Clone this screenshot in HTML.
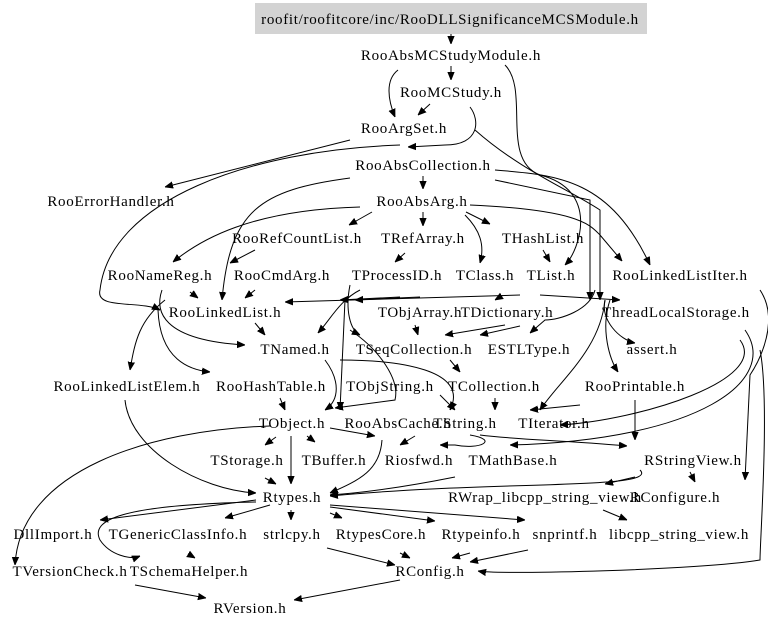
<!DOCTYPE html>
<html><head><meta charset="utf-8"><style>
html,body{margin:0;padding:0;background:#fff;}
svg{display:block}
text{font-family:"Liberation Serif",serif;font-size:15px;letter-spacing:0.7px;fill:#000;text-anchor:middle;}
path{fill:none;stroke:#000;stroke-width:1;}
</style></head><body>
<svg width="768" height="628" viewBox="0 0 768 628" xmlns="http://www.w3.org/2000/svg">
<defs><marker id="a" viewBox="0 0 10 10" refX="10" refY="5" markerWidth="8" markerHeight="8" orient="auto"><path d="M0,1 L10,5 L0,9 z" style="fill:#000;stroke:#000"/></marker></defs>
<rect x="255" y="3" width="392" height="31" fill="#d3d3d3"/>
<g marker-end="url(#a)">
<path d="M451,34 L451,44"/>
<path d="M451,66 L451,80"/>
<path d="M398,70 C385,80 388,100 395,117"/>
<path d="M430,104 L418,115"/>
<path d="M470,107 C480,120 480,145 445,145 L408,147"/>
<path d="M505,65 C530,90 500,160 540,175 C600,190 580,250 565,265"/>
<path d="M475,130 C520,170 570,190 600,210 L600,300"/>
<path d="M350,140 L165,187"/>
<path d="M400,145 C250,150 110,200 100,290 C95,310 140,300 160,310"/>
<path d="M423,176 L423,189"/>
<path d="M495,170 C560,175 610,180 650,265"/>
<path d="M495,180 L590,200 L590,300"/>
<path d="M350,178 C260,190 230,210 222,300"/>
<path d="M372,212 L349,225"/>
<path d="M360,207 C250,210 200,240 173,262"/>
<path d="M423,212 L423,226"/>
<path d="M466,212 L490,224"/>
<path d="M465,215 C480,230 485,245 480,263"/>
<path d="M470,205 C580,210 590,225 600,235 L622,261"/>
<path d="M543,250 L550,262"/>
<path d="M405,253 L395,262"/>
<path d="M255,250 L230,263"/>
<path d="M520,295 L285,302"/>
<path d="M190,292 L198,298"/>
<path d="M255,290 L245,298"/>
<path d="M400,297 L340,300"/>
<path d="M420,297 L355,300"/>
<path d="M500,297 L495,300"/>
<path d="M540,295 L620,300"/>
<path d="M360,290 C340,300 330,320 318,333"/>
<path d="M350,285 C345,310 350,330 360,335"/>
<path d="M162,290 C155,310 160,340 245,345"/>
<path d="M165,300 C140,320 135,340 130,370"/>
<path d="M158,310 C160,360 190,370 210,372"/>
<path d="M255,323 L265,335"/>
<path d="M415,325 L418,335"/>
<path d="M520,326 L480,335"/>
<path d="M505,325 L445,335"/>
<path d="M595,290 C590,310 560,320 545,320 L530,333"/>
<path d="M605,300 C600,320 620,340 635,343"/>
<path d="M610,300 C600,330 610,360 618,372"/>
<path d="M605,300 C600,350 560,380 540,410"/>
<path d="M280,398 L285,410"/>
<path d="M325,360 C340,380 340,400 325,410"/>
<path d="M450,360 L460,372"/>
<path d="M345,300 L340,410"/>
<path d="M350,330 C380,350 400,380 395,400 L335,408"/>
<path d="M340,360 C400,360 470,370 450,410"/>
<path d="M440,395 L455,410"/>
<path d="M495,398 L495,410"/>
<path d="M580,405 L530,410"/>
<path d="M635,400 L635,440"/>
<path d="M740,340 C770,380 640,420 560,425"/>
<path d="M745,330 C780,380 700,440 510,445"/>
<path d="M760,290 C780,320 760,360 750,375 L745,480"/>
<path d="M760,350 C770,400 760,540 760,560 C700,570 500,575 478,571"/>
<path d="M270,426 C150,430 20,470 15,565"/>
<path d="M276,437 L265,445"/>
<path d="M291,436 L291,484"/>
<path d="M307,436 L315,442"/>
<path d="M330,428 L375,436"/>
<path d="M415,436 L400,445"/>
<path d="M480,435 C520,440 560,440 627,446"/>
<path d="M470,435 C500,440 480,450 455,445 L440,445"/>
<path d="M382,440 C380,470 360,480 330,493"/>
<path d="M455,477 C400,488 360,493 330,495"/>
<path d="M265,478 L276,484"/>
<path d="M125,400 C130,450 200,490 256,493"/>
<path d="M640,470 C660,490 500,480 330,496"/>
<path d="M690,472 L695,482"/>
<path d="M635,477 L605,484"/>
<path d="M603,510 L627,520"/>
<path d="M270,505 L225,518"/>
<path d="M291,510 L291,520"/>
<path d="M330,513 L342,518"/>
<path d="M330,507 L435,521"/>
<path d="M330,505 L525,520"/>
<path d="M256,500 L100,520"/>
<path d="M256,502 C120,505 90,520 100,540 C110,555 130,560 140,556"/>
<path d="M190,555 L195,558"/>
<path d="M327,548 L395,565"/>
<path d="M400,553 L410,558"/>
<path d="M470,553 L452,558"/>
<path d="M528,550 L470,562"/>
<path d="M135,585 L206,598"/>
<path d="M400,580 L294,600"/>
</g>
<text x="450" y="24">roofit/roofitcore/inc/RooDLLSignificanceMCSModule.h</text>
<text x="451" y="60">RooAbsMCStudyModule.h</text>
<text x="451" y="97">RooMCStudy.h</text>
<text x="404" y="133">RooArgSet.h</text>
<text x="423" y="170">RooAbsCollection.h</text>
<text x="111" y="206">RooErrorHandler.h</text>
<text x="422" y="206">RooAbsArg.h</text>
<text x="297" y="243">RooRefCountList.h</text>
<text x="423" y="243">TRefArray.h</text>
<text x="543" y="243">THashList.h</text>
<text x="160" y="280">RooNameReg.h</text>
<text x="282" y="280">RooCmdArg.h</text>
<text x="397" y="280">TProcessID.h</text>
<text x="485" y="280">TClass.h</text>
<text x="551" y="280">TList.h</text>
<text x="680" y="280">RooLinkedListIter.h</text>
<text x="225" y="317">RooLinkedList.h</text>
<text x="420" y="317">TObjArray.h</text>
<text x="507" y="317">TDictionary.h</text>
<text x="676" y="317">ThreadLocalStorage.h</text>
<text x="295" y="354">TNamed.h</text>
<text x="414" y="354">TSeqCollection.h</text>
<text x="529" y="354">ESTLType.h</text>
<text x="652" y="354">assert.h</text>
<text x="127" y="391">RooLinkedListElem.h</text>
<text x="271" y="391">RooHashTable.h</text>
<text x="390" y="391">TObjString.h</text>
<text x="494" y="391">TCollection.h</text>
<text x="635" y="391">RooPrintable.h</text>
<text x="292" y="428">TObject.h</text>
<text x="398" y="428">RooAbsCache.h</text>
<text x="465" y="428">TString.h</text>
<text x="554" y="428">TIterator.h</text>
<text x="247" y="465">TStorage.h</text>
<text x="334" y="465">TBuffer.h</text>
<text x="419" y="465">Riosfwd.h</text>
<text x="513" y="465">TMathBase.h</text>
<text x="693" y="465">RStringView.h</text>
<text x="292" y="502">Rtypes.h</text>
<text x="545" y="502">RWrap_libcpp_string_view.h</text>
<text x="675" y="502">RConfigure.h</text>
<text x="53" y="539">DllImport.h</text>
<text x="178" y="539">TGenericClassInfo.h</text>
<text x="292" y="539">strlcpy.h</text>
<text x="381" y="539">RtypesCore.h</text>
<text x="481" y="539">Rtypeinfo.h</text>
<text x="565" y="539">snprintf.h</text>
<text x="679" y="539">libcpp_string_view.h</text>
<text x="70" y="576">TVersionCheck.h</text>
<text x="189" y="576">TSchemaHelper.h</text>
<text x="430" y="576">RConfig.h</text>
<text x="250" y="613">RVersion.h</text>
</svg>
</body></html>
